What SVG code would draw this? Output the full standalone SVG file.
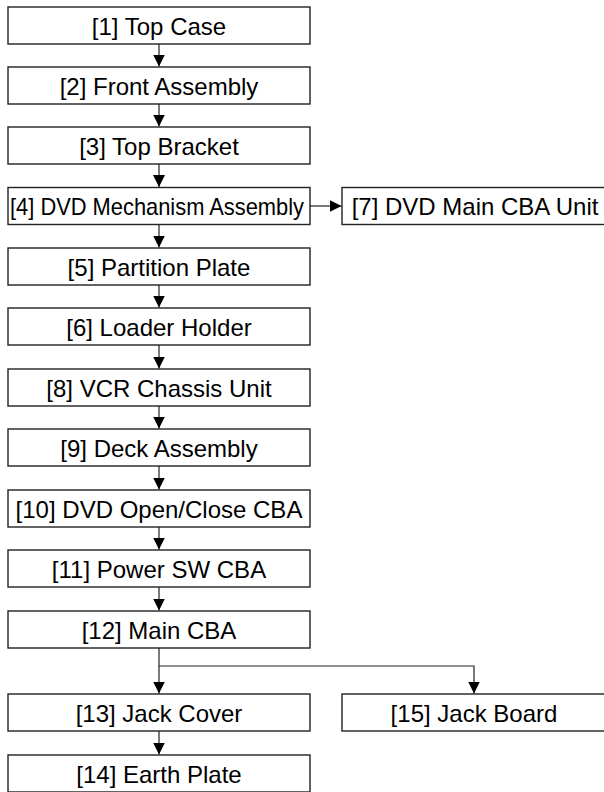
<svg xmlns="http://www.w3.org/2000/svg" width="604" height="792" viewBox="0 0 604 792">
<style>
.box rect{fill:#fff;stroke:#222;stroke-width:1.4}
.box text{font-family:"Liberation Sans",Arial,sans-serif;font-size:24px;fill:#000;text-anchor:middle}
.conn path{fill:none;stroke:#222;stroke-width:1.2}
</style>
<defs>
<marker id="ah" markerUnits="userSpaceOnUse" markerWidth="12" markerHeight="12" viewBox="0 0 10 10" refX="10" refY="5" orient="auto">
<path d="M0,0 L10,5 L0,10 Z" fill="#000"/>
</marker>
</defs>
<rect width="604" height="792" fill="#fff"/>
<g class="conn" id="connectors">
<path d="M159,44 V66.5" marker-end="url(#ah)"/>
<path d="M159,104 V126.5" marker-end="url(#ah)"/>
<path d="M159,164 V187" marker-end="url(#ah)"/>
<path d="M310,206 H341.5" marker-end="url(#ah)"/>
<path d="M159,224.5 V247.5" marker-end="url(#ah)"/>
<path d="M159,285 V307.5" marker-end="url(#ah)"/>
<path d="M159,345 V368.5" marker-end="url(#ah)"/>
<path d="M159,406 V428.5" marker-end="url(#ah)"/>
<path d="M159,466 V489.5" marker-end="url(#ah)"/>
<path d="M159,527 V549.5" marker-end="url(#ah)"/>
<path d="M159,587 V610.5" marker-end="url(#ah)"/>
<path d="M159,648 V693.5" marker-end="url(#ah)"/>
<path d="M159,666 H474 V693.5" marker-end="url(#ah)"/>
<path d="M159,731 V754.5" marker-end="url(#ah)"/>
</g>
<g class="box" id="n1"><rect x="8" y="7" width="302" height="37"/><text x="159" y="34.5">[1] Top Case</text></g>
<g class="box" id="n2"><rect x="8" y="67" width="302" height="37"/><text x="159" y="94.5">[2] Front Assembly</text></g>
<g class="box" id="n3"><rect x="8" y="127" width="302" height="37"/><text x="159" y="154.5">[3] Top Bracket</text></g>
<g class="box" id="n4"><rect x="8" y="187.5" width="302" height="37"/><text x="157" y="215" textLength="294" lengthAdjust="spacingAndGlyphs">[4] DVD Mechanism Assembly</text></g>
<g class="box" id="n7"><rect x="342" y="187.5" width="264" height="37"/><text x="475" y="215">[7] DVD Main CBA Unit</text></g>
<g class="box" id="n5"><rect x="8" y="248" width="302" height="37"/><text x="159" y="275.5">[5] Partition Plate</text></g>
<g class="box" id="n6"><rect x="8" y="308" width="302" height="37"/><text x="159" y="335.5">[6] Loader Holder</text></g>
<g class="box" id="n8"><rect x="8" y="369" width="302" height="37"/><text x="159" y="396.5">[8] VCR Chassis Unit</text></g>
<g class="box" id="n9"><rect x="8" y="429" width="302" height="37"/><text x="159" y="456.5">[9] Deck Assembly</text></g>
<g class="box" id="n10"><rect x="8" y="490" width="302" height="37"/><text x="159" y="517.5">[10] DVD Open/Close CBA</text></g>
<g class="box" id="n11"><rect x="8" y="550" width="302" height="37"/><text x="159" y="577.5">[11] Power SW CBA</text></g>
<g class="box" id="n12"><rect x="8" y="611" width="302" height="37"/><text x="159" y="638.5">[12] Main CBA</text></g>
<g class="box" id="n13"><rect x="8" y="694" width="302" height="37"/><text x="159" y="721.5">[13] Jack Cover</text></g>
<g class="box" id="n15"><rect x="342" y="694" width="264" height="37"/><text x="474" y="721.5">[15] Jack Board</text></g>
<g class="box" id="n14"><rect x="8" y="755" width="302" height="37"/><text x="159" y="782.5">[14] Earth Plate</text></g>
</svg>
